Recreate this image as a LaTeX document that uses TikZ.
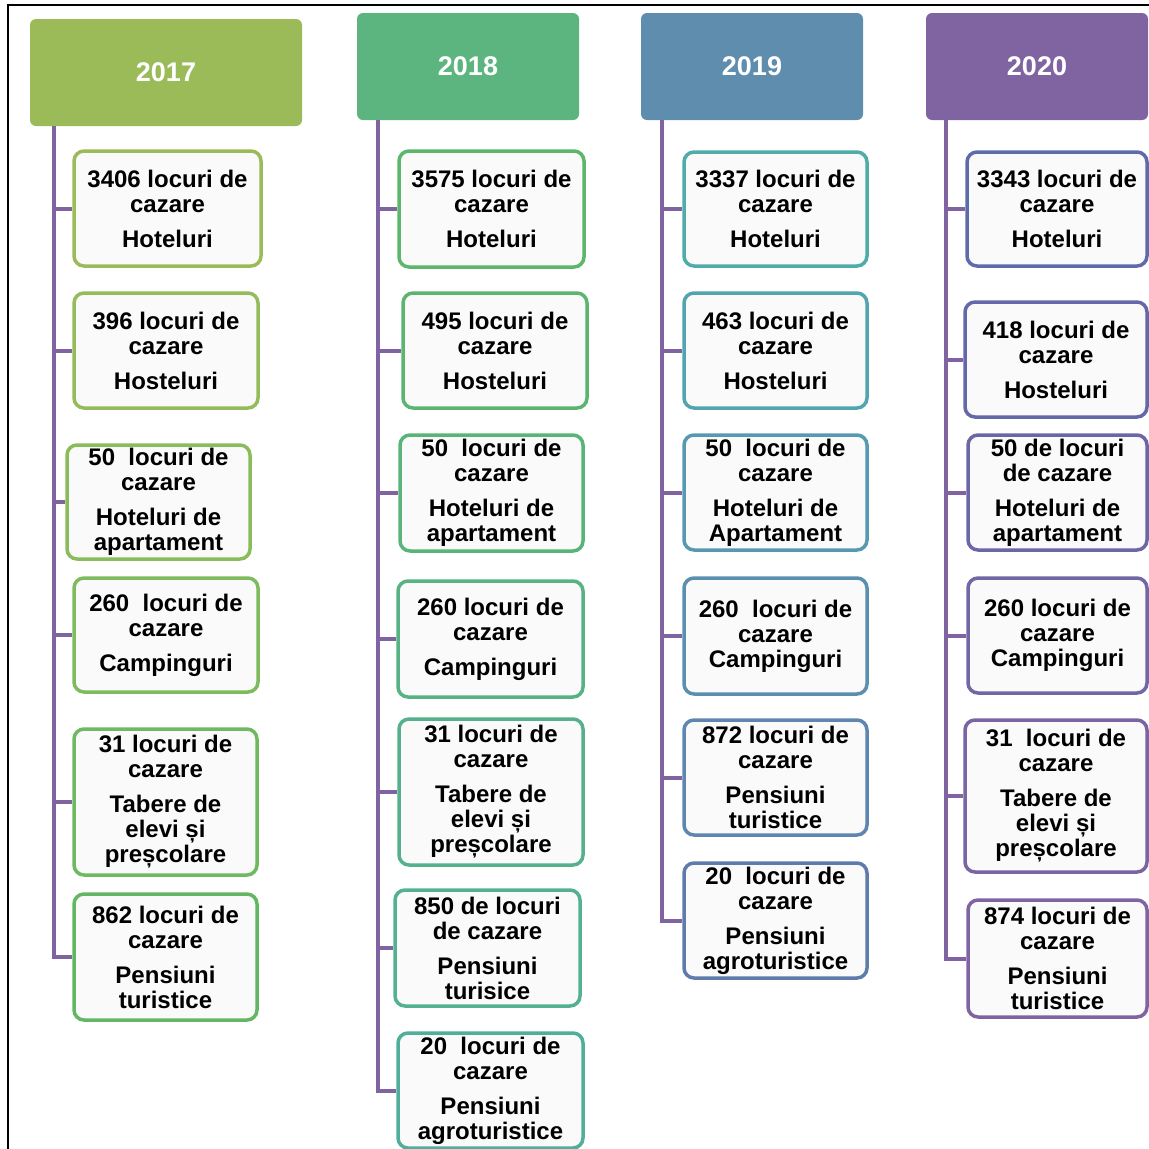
\documentclass[tikz,border=0pt]{standalone}
\usepackage{fontspec}
\setmainfont{Liberation Sans}

\definecolor{yr17}{HTML}{9BBB59}
\definecolor{yr18}{HTML}{5CB57E}
\definecolor{yr19}{HTML}{5F8DAE}
\definecolor{yr20}{HTML}{8064A2}
\definecolor{treeline}{HTML}{8064A2}
% box outlines, running from green to purple
\definecolor{ca1}{HTML}{9BBB59}
\definecolor{ca2}{HTML}{95BC5A}
\definecolor{ca3}{HTML}{8ABC5B}
\definecolor{ca4}{HTML}{7DBB5E}
\definecolor{ca5}{HTML}{6FB960}
\definecolor{ca6}{HTML}{63B762}
\definecolor{cb1}{HTML}{5CB66B}
\definecolor{cb2}{HTML}{5BB571}
\definecolor{cb3}{HTML}{59B47A}
\definecolor{cb4}{HTML}{57B284}
\definecolor{cb5}{HTML}{55B18C}
\definecolor{cb6}{HTML}{53B093}
\definecolor{cb7}{HTML}{51AE9A}
\definecolor{cc1}{HTML}{4FACA8}
\definecolor{cc2}{HTML}{52A4B0}
\definecolor{cc3}{HTML}{5699B0}
\definecolor{cc4}{HTML}{5A8FB0}
\definecolor{cc5}{HTML}{5E86AE}
\definecolor{cc6}{HTML}{5F7BAB}
\definecolor{cd1}{HTML}{5F6AAA}
\definecolor{cd2}{HTML}{6468A8}
\definecolor{cd3}{HTML}{6B67A6}
\definecolor{cd4}{HTML}{7266A5}
\definecolor{cd5}{HTML}{7965A3}
\definecolor{cd6}{HTML}{8064A2}

\tikzset{
  year/.style={fill=#1, rounded corners=6pt, text=white, inner sep=0pt,
    font=\fontsize{27}{30}\selectfont\bfseries},
  item/.style={draw=#1, line width=3.5pt, rounded corners=10pt, fill=white!98!black,
    align=center, inner sep=0pt, font=\fontsize{24}{25}\selectfont\bfseries},
  tree/.style={draw=treeline, line width=4pt}
}

\begin{document}
\begin{tikzpicture}[x=1pt, y=-1pt]
\useasboundingbox (0,0) rectangle (1149,1149);
\draw[line width=1.2pt] (8,1149) -- (8,5) -- (1149,5);

% year headers
\node[year=yr17, minimum width=272pt, minimum height=107pt] (h17) at (166,72.5) {2017};
\node[year=yr18, minimum width=222pt, minimum height=107pt] (h18) at (468,66.5) {2018};
\node[year=yr19, minimum width=222pt, minimum height=107pt] (h19) at (752,66.5) {2019};
\node[year=yr20, minimum width=222pt, minimum height=107pt] (h20) at (1037,66.5) {2020};

\coordinate (t17) at (54,126);
\coordinate (t18) at (378,120);
\coordinate (t19) at (662,120);
\coordinate (t20) at (946,120);

% 2017
\node[item=ca1, minimum width=187pt, minimum height=115pt] (a1) at (167.5,208.5) {3406 locuri de\\cazare\\[10pt]Hoteluri};
\node[item=ca2, minimum width=184pt, minimum height=115pt] (a2) at (166,350.5) {396 locuri de\\cazare\\[10pt]Hosteluri};
\node[item=ca3, minimum width=183pt, minimum height=114pt] (a3) at (158.5,502) {50\ \ locuri de\\cazare\\[10pt]Hoteluri de\\apartament};
\node[item=ca4, minimum width=184pt, minimum height=114pt] (a4) at (166,635) {260\ \ locuri de\\cazare\\[10pt]Campinguri};
\node[item=ca5, minimum width=183pt, minimum height=146pt] (a5) at (165.5,802) {31 locuri de\\cazare\\[10pt]Tabere de\\elevi și\\preșcolare};
\node[item=ca6, minimum width=183pt, minimum height=126pt] (a6) at (165.5,957) {862 locuri de\\cazare\\[10pt]Pensiuni\\turistice};

% 2018
\node[item=cb1, minimum width=185pt, minimum height=116pt] (b1) at (491.5,209) {3575 locuri de\\cazare\\[10pt]Hoteluri};
\node[item=cb2, minimum width=184pt, minimum height=115pt] (b2) at (495,350.5) {495 locuri de\\cazare\\[10pt]Hosteluri};
\node[item=cb3, minimum width=183pt, minimum height=116pt] (b3) at (491.5,493) {50\ \ locuri de\\cazare\\[10pt]Hoteluri de\\apartament};
\node[item=cb4, minimum width=185pt, minimum height=116pt] (b4) at (490.5,639) {260 locuri de\\cazare\\[10pt]Campinguri};
\node[item=cb5, minimum width=184pt, minimum height=146pt] (b5) at (491,792) {31 locuri de\\cazare\\[10pt]Tabere de\\elevi și\\preșcolare};
\node[item=cb6, minimum width=185pt, minimum height=116pt] (b6) at (487.5,948) {850 de locuri\\de cazare\\[10pt]Pensiuni\\turisice};
\node[item=cb7, minimum width=185pt, minimum height=115pt] (b7) at (490.5,1090.5) {20\ \ locuri de\\cazare\\[10pt]Pensiuni\\agroturistice};

% 2019
\node[item=cc1, minimum width=183pt, minimum height=114pt] (c1) at (775.5,209) {3337 locuri de\\cazare\\[10pt]Hoteluri};
\node[item=cc2, minimum width=183pt, minimum height=115pt] (c2) at (775.5,350.5) {463 locuri de\\cazare\\[10pt]Hosteluri};
\node[item=cc3, minimum width=183pt, minimum height=115pt] (c3) at (775.5,492.5) {50\ \ locuri de\\cazare\\[10pt]Hoteluri de\\Apartament};
\node[item=cc4, minimum width=183pt, minimum height=116pt] (c4) at (775.5,636) {260\ \ locuri de\\cazare\\Campinguri};
\node[item=cc5, minimum width=183pt, minimum height=115pt] (c5) at (775.5,777.5) {872 locuri de\\cazare\\[10pt]Pensiuni\\turistice};
\node[item=cc6, minimum width=183pt, minimum height=115pt] (c6) at (775.5,920.5) {20\ \ locuri de\\cazare\\[10pt]Pensiuni\\agroturistice};

% 2020
\node[item=cd1, minimum width=180pt, minimum height=114pt] (d1) at (1057,209) {3343 locuri de\\cazare\\[10pt]Hoteluri};
\node[item=cd2, minimum width=182pt, minimum height=115pt] (d2) at (1056,359.5) {418 locuri de\\cazare\\[10pt]Hosteluri};
\node[item=cd3, minimum width=179pt, minimum height=115pt] (d3) at (1057.5,492.5) {50 de locuri\\de cazare\\[10pt]Hoteluri de\\apartament};
\node[item=cd4, minimum width=179pt, minimum height=115pt] (d4) at (1057.5,635.5) {260 locuri de\\cazare\\Campinguri};
\node[item=cd5, minimum width=182pt, minimum height=152pt] (d5) at (1056,796) {31\ \ locuri de\\cazare\\[10pt]Tabere de\\elevi și\\preșcolare};
\node[item=cd6, minimum width=179pt, minimum height=117pt] (d6) at (1057.5,958.5) {874 locuri de\\cazare\\[10pt]Pensiuni\\turistice};

% tree lines
\draw[tree] (t17) |- (a6.west);
\draw[tree] (t17 |- a1.west) -- (a1.west) (t17 |- a2.west) -- (a2.west)
  (t17 |- a3.west) -- (a3.west) (t17 |- a4.west) -- (a4.west) (t17 |- a5.west) -- (a5.west);
\draw[tree] (t18) |- (b7.west);
\draw[tree] (t18 |- b1.west) -- (b1.west) (t18 |- b2.west) -- (b2.west) (t18 |- b3.west) -- (b3.west)
  (t18 |- b4.west) -- (b4.west) (t18 |- b5.west) -- (b5.west) (t18 |- b6.west) -- (b6.west);
\draw[tree] (t19) |- (c6.west);
\draw[tree] (t19 |- c1.west) -- (c1.west) (t19 |- c2.west) -- (c2.west) (t19 |- c3.west) -- (c3.west)
  (t19 |- c4.west) -- (c4.west) (t19 |- c5.west) -- (c5.west);
\draw[tree] (t20) |- (d6.west);
\draw[tree] (t20 |- d1.west) -- (d1.west) (t20 |- d2.west) -- (d2.west) (t20 |- d3.west) -- (d3.west)
  (t20 |- d4.west) -- (d4.west) (t20 |- d5.west) -- (d5.west);
\end{tikzpicture}
\end{document}
